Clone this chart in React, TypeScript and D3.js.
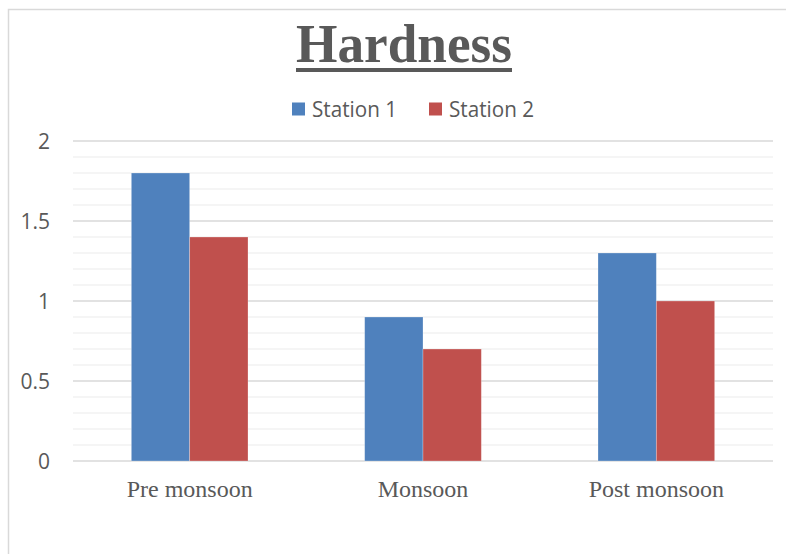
import React from "react";
import * as d3 from "d3";

const categories = ["Pre monsoon", "Monsoon", "Post monsoon"];
const seriesNames = ["Station 1", "Station 2"];
const station1 = [1.8, 0.9, 1.3];
const station2 = [1.4, 0.7, 1.0];
const yTicks = [0, 0.5, 1, 1.5, 2];
const colors = ["#4f81bd", "#c0504d"];

const W = 786;
const H = 554;
const plot = { left: 73, right: 773, top: 141, bottom: 461 };

export default function App() {
  const x = d3.scaleBand<string>().domain(categories).range([plot.left, plot.right]).paddingInner(0).paddingOuter(0);
  const inner = d3.scaleBand<string>().domain(seriesNames).range([0, x.bandwidth() * 0.5]);
  const y = d3.scaleLinear().domain([0, 2]).range([plot.bottom, plot.top]);
  const minor = d3.range(0, 21).map((i) => i / 10).filter((v) => Math.round(v * 10) % 5 !== 0);
  const series = [station1, station2];

  return (
    <svg width={W} height={H} style={{ position: "absolute", left: 0, top: 0, background: "#fff" }}>
      <rect x={8.5} y={9.5} width={900} height={700} fill="#fff" stroke="#d9d9d9" strokeWidth={1.5} />
      <text x={404} y={62} textAnchor="middle" fontFamily="'Liberation Serif', 'Times New Roman', serif" fontWeight="bold" fontSize={55} fill="#595959" textLength={216} lengthAdjust="spacingAndGlyphs">
        Hardness
      </text>
      <rect x={296} y={68} width={216} height={4} fill="#595959" />
      {seriesNames.map((s, i) => {
        const lx = [292, 429][i];
        return (
          <g key={s}>
            <rect x={lx} y={102.5} width={13} height={13} fill={colors[i]} />
            <text x={lx + 20} y={109} dominantBaseline="central" fontFamily="'Open Sans', sans-serif" fontSize={21} fill="#595959" textLength={85} lengthAdjust="spacingAndGlyphs">
              {s}
            </text>
          </g>
        );
      })}
      {minor.map((v) => (
        <line key={"m" + v} x1={plot.left} x2={plot.right} y1={y(v)} y2={y(v)} stroke="#f2f2f2" strokeWidth={1.5} />
      ))}
      {yTicks.map((v) => (
        <g key={"t" + v}>
          <line x1={plot.left} x2={plot.right} y1={y(v)} y2={y(v)} stroke="#d9d9d9" strokeWidth={1.5} />
          <text x={50} y={y(v)} textAnchor="end" dominantBaseline="central" fontFamily="'Open Sans', sans-serif" fontSize={21} fill="#595959">
            {String(v)}
          </text>
        </g>
      ))}
      {categories.map((c, ci) => (
        <g key={c}>
          {series.map((vals, si) => {
            const bx = (x(c) as number) + x.bandwidth() * 0.25 + (inner(seriesNames[si]) as number);
            return (
              <rect key={si} x={bx} y={y(vals[ci])} width={inner.bandwidth()} height={y(0) - y(vals[ci])} fill={colors[si]} stroke="rgba(255,255,255,0.35)" strokeWidth={0.75} />
            );
          })}
          <text x={(x(c) as number) + x.bandwidth() / 2} y={497} textAnchor="middle" fontFamily="'Liberation Serif', 'Times New Roman', serif" fontSize={24} fill="#595959">
            {c}
          </text>
        </g>
      ))}
    </svg>
  );
}
